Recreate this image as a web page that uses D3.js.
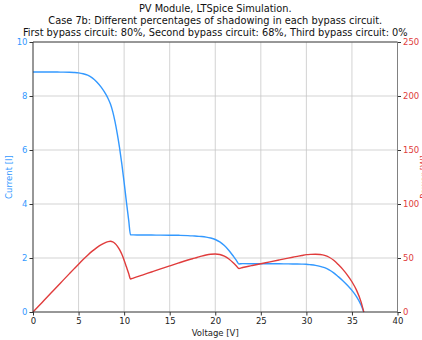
<!DOCTYPE html>
<html>
<head>
<meta charset="utf-8">
<script src="https://cdn.jsdelivr.net/npm/d3@7"></script>
<style>
  body { margin: 0; background: #fff; }
  svg text { font-family: "DejaVu Sans", sans-serif; }
</style>
</head>
<body>
<div id="chart"></div>
<script>
let voltage = [0, 1, 2, 3, 4, 4.5, 5, 5.5, 6, 6.5, 7, 7.5, 8, 8.25, 8.5, 8.75, 9, 9.25, 9.5, 9.75, 10, 10.25, 10.5, 10.7,
  11, 12, 13, 14, 15, 16, 17, 17.5, 18, 18.5, 19, 19.5, 20, 20.5, 21, 21.5, 22, 22.3, 22.6,
  23, 24, 25, 26, 27, 28, 28.5, 29, 29.5, 30, 30.5, 31, 31.5, 32, 32.5, 33, 33.5, 34, 34.5, 35, 35.5, 36, 36.3];
let current = [8.89, 8.89, 8.89, 8.885, 8.88, 8.87, 8.855, 8.825, 8.77, 8.67, 8.52, 8.32, 8.06, 7.9, 7.7, 7.42, 7.05, 6.6, 6.08, 5.48, 4.8, 4.08, 3.4, 2.86,
  2.855, 2.852, 2.85, 2.848, 2.845, 2.84, 2.83, 2.82, 2.805, 2.795, 2.775, 2.74, 2.685, 2.595, 2.46, 2.28, 2.06, 1.92, 1.78,
  1.79, 1.789, 1.788, 1.787, 1.785, 1.782, 1.78, 1.778, 1.775, 1.77, 1.75, 1.725, 1.69, 1.64, 1.56, 1.45, 1.31, 1.16, 0.99, 0.8, 0.57, 0.26, 0];
let power = [0, 8.89, 17.78, 26.66, 35.52, 39.92, 44.28, 48.54, 52.62, 56.36, 59.64, 62.4, 64.48, 65.18, 65.45, 64.93, 63.45, 61.05, 57.76, 53.43, 48.0, 41.82, 35.7, 30.6,
  31.41, 34.22, 37.05, 39.87, 42.68, 45.44, 48.11, 49.35, 50.49, 51.71, 52.73, 53.43, 53.7, 53.2, 51.66, 49.02, 45.32, 42.82, 40.23,
  41.17, 42.94, 44.7, 46.46, 48.2, 49.9, 50.73, 51.56, 52.36, 53.1, 53.38, 53.48, 53.24, 52.48, 50.7, 47.85, 43.89, 39.44, 34.16, 28.0, 20.24, 9.36, 0];

let xTicks = [0, 5, 10, 15, 20, 25, 30, 35, 40];
let iTicks = [0, 2, 4, 6, 8, 10];
let pTicks = [0, 50, 100, 150, 200, 250];
let titleLines = [
  "PV Module, LTSpice Simulation.",
  "Case 7b: Different percentages of shadowing in each bypass circuit.",
  "First bypass circuit: 80%, Second bypass circuit: 68%, Third bypass circuit: 0%"
];

let W = 422, H = 340;
let mg = { left: 33, right: 24.5, top: 42, bottom: 28 };
let iClr = "#3399ff", pClr = "#e03c3c";

let svg = d3.select("#chart").append("svg")
  .attr("width", W).attr("height", H);

let x = d3.scaleLinear().domain([0, 40]).range([mg.left, W - mg.right]);
let yI = d3.scaleLinear().domain([0, 10]).range([H - mg.bottom, mg.top]);
let yP = d3.scaleLinear().domain([0, 250]).range([H - mg.bottom, mg.top]);

// grid
let grid = svg.append("g").attr("stroke", "#c8c8c8").attr("stroke-width", 0.8);
grid.selectAll(".gx").data(xTicks).enter().append("line")
  .attr("x1", d => x(d)).attr("x2", d => x(d))
  .attr("y1", mg.top).attr("y2", H - mg.bottom);
grid.selectAll(".gy").data(iTicks).enter().append("line")
  .attr("x1", mg.left).attr("x2", W - mg.right)
  .attr("y1", d => yI(d)).attr("y2", d => yI(d));

// lines
let pts = voltage.map((v, i) => ({ v: v, i: current[i], p: power[i] }));
svg.append("path").datum(pts)
  .attr("fill", "none").attr("stroke", iClr).attr("stroke-width", 1.4)
  .attr("d", d3.line().x(d => x(d.v)).y(d => yI(d.i)).curve(d3.curveMonotoneX));
svg.append("path").datum(pts)
  .attr("fill", "none").attr("stroke", pClr).attr("stroke-width", 1.4)
  .attr("d", d3.line().x(d => x(d.v)).y(d => yP(d.p)).curve(d3.curveMonotoneX));

// axes
let styleAxis = (g, clr) => {
  g.select(".domain").remove();
  g.selectAll(".tick line").attr("stroke", "#333");
  g.selectAll(".tick text").attr("fill", clr).style("font-size", "8.5px");
};
svg.append("g").attr("transform", "translate(0," + (H - mg.bottom) + ")")
  .call(d3.axisBottom(x).tickValues(xTicks).tickSize(3.5).tickPadding(2))
  .call(g => styleAxis(g, "#222"));
svg.append("g").attr("transform", "translate(" + mg.left + ",0)")
  .call(d3.axisLeft(yI).tickValues(iTicks).tickSize(3.5).tickPadding(2))
  .call(g => styleAxis(g, iClr));
svg.append("g").attr("transform", "translate(" + (W - mg.right) + ",0)")
  .call(d3.axisRight(yP).tickValues(pTicks).tickSize(3.5).tickPadding(2))
  .call(g => styleAxis(g, pClr));

// frame
let fr = svg.append("g").attr("fill", "none").attr("stroke-width", 0.9);
fr.append("path").attr("stroke", "#333")
  .attr("d", "M" + (W - mg.right) + "," + mg.top + "H" + mg.left + "V" + (H - mg.bottom) + "H" + (W - mg.right));
fr.append("line").attr("stroke", "#777")
  .attr("x1", W - mg.right).attr("x2", W - mg.right)
  .attr("y1", mg.top).attr("y2", H - mg.bottom);

// titles and labels
svg.append("g").selectAll("text").data(titleLines).enter().append("text")
  .attr("x", (mg.left + W - mg.right) / 2).attr("y", (d, i) => 12 + i * 12)
  .attr("text-anchor", "middle").style("font-size", "9.8px").attr("fill", "#111")
  .text(d => d);
svg.append("text")
  .attr("x", (mg.left + W - mg.right) / 2).attr("y", H - 4)
  .attr("text-anchor", "middle").style("font-size", "8.5px").attr("fill", "#222")
  .text("Voltage [V]");
svg.append("text")
  .attr("transform", "translate(12," + yI(5) + ") rotate(-90)")
  .attr("text-anchor", "middle").style("font-size", "8.5px").attr("fill", iClr)
  .text("Current [I]");
// mostly outside the frame, as in the original
svg.append("text")
  .attr("transform", "translate(426.5," + yP(125) + ") rotate(-90)")
  .attr("text-anchor", "middle").style("font-size", "8.5px").attr("fill", pClr)
  .text("Power [W]");
</script>
</body>
</html>
